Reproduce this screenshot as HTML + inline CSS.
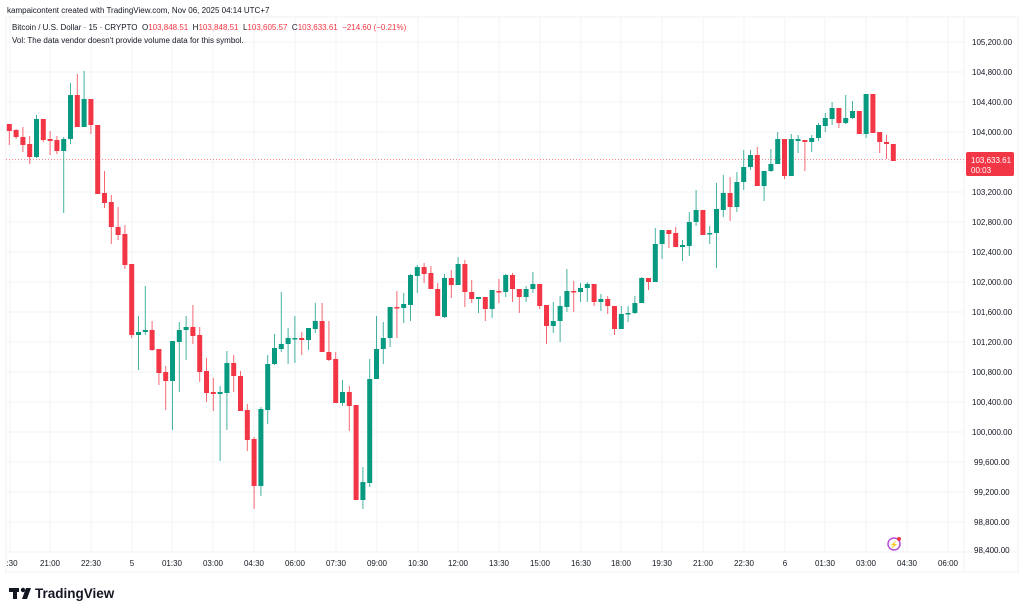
<!DOCTYPE html>
<html><head><meta charset="utf-8"><style>
body{margin:0;width:1024px;height:612px;background:#fff;overflow:hidden;font-family:"Liberation Sans",sans-serif;}
svg{position:absolute;left:0;top:0}
</style></head><body>
<svg width="1024" height="612" xmlns="http://www.w3.org/2000/svg" font-family="Liberation Sans, sans-serif">
<rect x="6" y="17" width="1012" height="555" fill="#fff" stroke="#eef0f3"/>
<g id="grid" stroke="#f2f3f6" stroke-width="1"></g>
<line x1="6" y1="552" x2="1018" y2="552" stroke="#f0f1f4"/>
<line x1="964" y1="17" x2="964" y2="572" stroke="#f0f1f4"/>
<line x1="6" y1="159.5" x2="964" y2="159.5" stroke="#f23645" stroke-width="1" stroke-dasharray="1,2" opacity="0.6"/>
<g id="candles"></g>
<text x="7" y="13" font-size="8" fill="#131722">kampaicontent created with TradingView.com, Nov 06, 2025 04:14 UTC+7</text>
<text x="12" y="30" font-size="8" fill="#131722" xml:space="preserve">Bitcoin / U.S. Dollar · 15 · CRYPTO  O<tspan fill="#f23645">103,848.51</tspan>  H<tspan fill="#f23645">103,848.51</tspan>  L<tspan fill="#f23645">103,605.57</tspan>  C<tspan fill="#f23645">103,633.61  −214.60 (−0.21%)</tspan></text>
<text x="12" y="43" font-size="8" fill="#131722">Vol: The data vendor doesn't provide volume data for this symbol.</text>
<g font-size="8" fill="#131722">
<text x="972" y="45">105,200.00</text><text x="972" y="75">104,800.00</text><text x="972" y="105">104,400.00</text><text x="972" y="135">104,000.00</text>
<text x="972" y="195">103,200.00</text><text x="972" y="225">102,800.00</text><text x="972" y="255">102,400.00</text><text x="972" y="285">102,000.00</text>
<text x="972" y="315">101,600.00</text><text x="972" y="345">101,200.00</text><text x="972" y="375">100,800.00</text><text x="972" y="405">100,400.00</text>
<text x="972" y="435">100,000.00</text><text x="974" y="465">99,600.00</text><text x="974" y="495">99,200.00</text><text x="974" y="525">98,800.00</text><text x="974" y="553">98,400.00</text>
</g>
<rect x="966" y="152" width="48" height="24" rx="2" fill="#f23645"/>
<text x="971" y="163" font-size="8" fill="#fff">103,633.61</text>
<text x="971" y="173" font-size="8" fill="#fff">00:03</text>
<g font-size="8" fill="#131722" text-anchor="middle">
<text x="12" y="566">:30</text><text x="50" y="566">21:00</text><text x="91" y="566">22:30</text><text x="132" y="566">5</text>
<text x="172" y="566">01:30</text><text x="213" y="566">03:00</text><text x="254" y="566">04:30</text><text x="295" y="566">06:00</text>
<text x="336" y="566">07:30</text><text x="377" y="566">09:00</text><text x="418" y="566">10:30</text><text x="458" y="566">12:00</text>
<text x="499" y="566">13:30</text><text x="540" y="566">15:00</text><text x="581" y="566">16:30</text><text x="621" y="566">18:00</text>
<text x="662" y="566">19:30</text><text x="703" y="566">21:00</text><text x="744" y="566">22:30</text><text x="785" y="566">6</text>
<text x="825" y="566">01:30</text><text x="866" y="566">03:00</text><text x="907" y="566">04:30</text><text x="948" y="566">06:00</text>
</g>
<circle cx="894" cy="544" r="6" fill="none" stroke="#b44fd6" stroke-width="1.5"/>
<circle cx="899" cy="539" r="2" fill="#f23645"/>
<text x="894" y="547" font-size="7" fill="#b44fd6" text-anchor="middle">⚡</text>
<g fill="#131722">
<rect x="9" y="588" width="10" height="4"/><rect x="13" y="588" width="4" height="11"/>
<circle cx="23" cy="590" r="2.2"/><polygon points="26,588 31,588 27,599 22,599"/>
</g>
<text x="35" y="598" font-size="13.5" font-weight="bold" fill="#131722">TradingView</text>
</svg>
<script>
var g=document.getElementById('grid'),ns='http://www.w3.org/2000/svg';
function ln(x1,y1,x2,y2,p){var l=document.createElementNS(ns,'line');l.setAttribute('x1',x1);l.setAttribute('y1',y1);l.setAttribute('x2',x2);l.setAttribute('y2',y2);p.appendChild(l);return l;}
for(var y=42;y<=550;y+=30)ln(6,y,964,y,g);
var xs=[50,91,132,172,213,254,295,336,377,418,458,499,540,581,621,662,703,744,785,825,866,907,948,10];
xs.forEach(function(x){ln(x,17,x,552,g)});
var D=[
['r',124,131,124,145],['r',130,137,129,139],['r',137,145,127,152],['r',144,157,136,164],['g',119,157,115,158],
['r',119,140,119,142],['r',139,141,131,155],['r',140,151,136,154],['g',139,151,137,213],['g',95,139,83,144],
['r',95,127,74,127],['g',99,127,71,127],['r',99,125,99,134],['r',125,194,125,194],['r',193,203,171,208],
['r',202,227,195,244],['r',227,235,207,240],['r',234,265,225,269],['r',264,335,264,338],['g',332,335,316,370],
['g',330,332,286,335],['r',330,350,321,351],['r',349,373,349,385],['r',372,381,366,410],['g',341,381,341,430],
['g',330,342,322,392],['g',327,330,316,360],['r',327,336,305,344],['r',335,372,327,382],['r',371,393,358,402],
['r',392,394,378,411],['g',392,394,386,461],['g',363,393,351,430],['r',363,376,355,392],['r',376,411,371,411],
['r',410,440,404,451],['r',439,486,437,509],['g',409,486,407,496],['g',364,410,355,424],['g',348,364,334,365],
['g',344,349,292,352],['g',338,344,328,364],['g',338,339,316,363],['r',338,340,332,355],['g',328,340,328,350],
['g',321,329,303,333],['r',321,352,303,352],['r',352,360,321,361],['r',359,403,352,403],['g',392,403,380,406],
['r',392,406,386,431],['r',405,500,405,500],['g',482,500,467,509],['g',379,483,359,487],['g',349,379,316,379],
['g',338,349,322,364],['g',307,338,307,347],['r',307,308,291,338],['g',304,308,293,323],['g',275,305,274,321],
['g',267,276,265,293],['r',267,274,263,283],['r',273,289,266,289],['r',289,316,283,316],['g',278,317,274,318],
['r',278,285,270,298],['g',264,285,257,285],['r',264,292,260,307],['r',292,299,280,303],['g',297,299,297,313],
['r',297,309,297,321],['g',290,309,290,318],['r',291,292,279,303],['g',275,292,274,297],['r',275,289,273,302],
['r',289,297,289,313],['g',289,297,286,302],['g',284,289,272,293],['r',284,306,284,309],['r',305,326,305,344],
['g',321,326,302,333],['g',306,321,296,342],['g',291,307,269,312],['r',291,292,281,312],['g',288,292,283,302],
['g',284,288,282,302],['r',284,302,284,306],['g',299,302,294,311],['r',299,306,296,314],['r',306,329,306,335],
['g',314,329,306,329],['g',313,314,306,322],['g',303,313,296,314],['g',278,303,277,303],['r',278,282,278,290],
['g',244,282,228,282],['g',230,244,230,259],['r',230,234,230,248],['r',233,247,227,247],['g',245,247,240,261],
['g',222,246,212,256],['g',210,222,190,226],['r',210,235,210,235],['g',233,234,226,244],['g',209,233,183,268],
['g',193,210,175,217],['r',193,207,177,221],['g',182,207,172,212],['g',167,182,150,190],['g',155,167,150,170],
['r',155,186,147,186],['g',171,186,171,201],['g',164,171,149,172],['g',139,164,132,164],['r',139,176,139,179],
['g',139,176,134,176],['g',139,141,135,153],['r',140,142,140,171],['g',138,142,135,152],['g',125,138,123,141],
['g',118,126,113,132],['g',108,119,102,125],['r',108,123,108,128],['g',118,123,95,124],['g',111,118,101,119],
['r',111,134,111,134],['g',94,134,94,138],['r',94,133,94,133],['r',132,142,132,153],['r',142,144,135,159],
['r',144,161,144,161]];
var c=document.getElementById('candles');
D.forEach(function(d,i){var x=9.3+i*6.8,col=d[0]=='g'?'#089981':'#f23645';
var w=ln(x,d[3],x,d[4],c);w.setAttribute('stroke',col);w.setAttribute('stroke-width','1');w.setAttribute('opacity','0.75');
var r=document.createElementNS(ns,'rect');r.setAttribute('x',x-2.5);r.setAttribute('y',d[1]);r.setAttribute('width',5);r.setAttribute('height',Math.max(1.5,d[2]-d[1]));r.setAttribute('fill',col);c.appendChild(r);});
</script>
</body></html>
